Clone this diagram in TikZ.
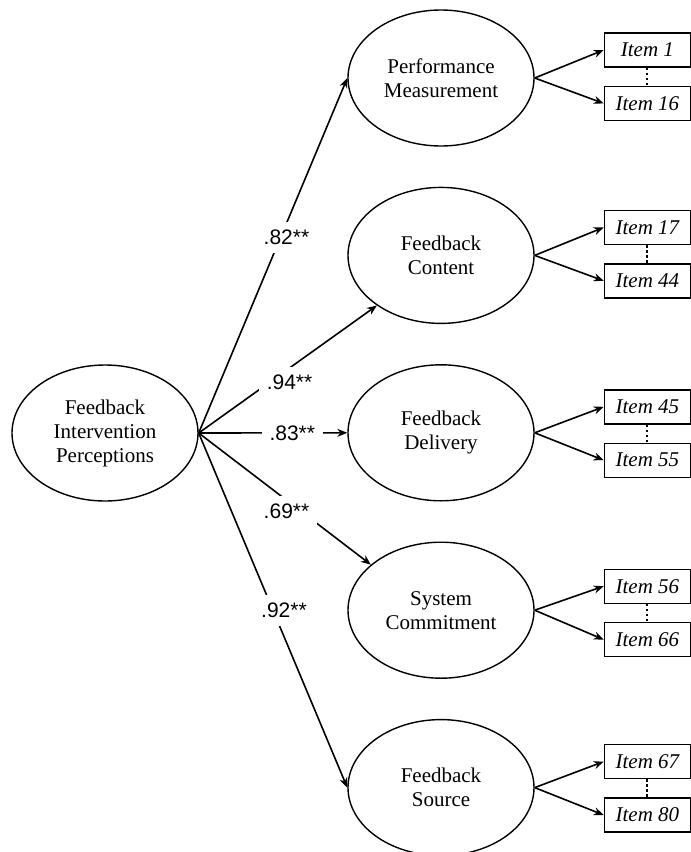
\documentclass[tikz,border=0pt]{standalone}
\usepackage{fontspec}
\setmainfont{Liberation Serif}
\setsansfont{Liberation Sans}
\usepackage{tikz}
\usetikzlibrary{arrows.meta}
\usetikzlibrary{shapes.geometric}
\usetikzlibrary{positioning}

\begin{document}
\begin{tikzpicture}[x=1pt,y=-1pt,->,>={Stealth[length=10pt,width=8pt]},line width=1.6pt,node distance=40pt]
	\tikzstyle{latent}=[draw, ellipse, line width=1.4pt, minimum width=186pt, minimum height=136pt, inner sep=0pt, align=center, font=\fontsize{21}{24}\selectfont]
	\tikzstyle{item}=[draw, rectangle, line width=1.4pt, minimum width=86pt, minimum height=34pt, inner sep=0pt, font=\itshape\fontsize{21}{24}\selectfont]
	\tikzstyle{coef}=[fill=white, inner sep=8pt, font=\sffamily\fontsize{21}{24}\selectfont]
	\useasboundingbox (0,0) rectangle (691,852);

	\node[latent] (fip) at (105,433) {Feedback\\Intervention\\Perceptions};
	\node[latent] (pm) at (441,78) {Performance\\Measurement};
	\node[latent] (fc) [below=of pm] {Feedback\\Content};
	\node[latent] (fd) [below=of fc] {Feedback\\Delivery};
	\node[latent] (sc) [below=of fd] {System\\Commitment};
	\node[latent] (fs) [below=of sc] {Feedback\\Source};

	\node[item] (i1) [right=69pt of pm, yshift=28pt] {Item 1};
	\node[item] (i16) [below=18pt of i1] {Item 16};
	\node[item] (i17) [right=69pt of fc, yshift=28pt] {Item 17};
	\node[item] (i44) [below=18pt of i17] {Item 44};
	\node[item] (i45) [right=69pt of fd, yshift=26pt] {Item 45};
	\node[item] (i55) [below=18pt of i45] {Item 55};
	\node[item] (i56) [right=69pt of sc, yshift=24pt] {Item 56};
	\node[item] (i66) [below=18pt of i56] {Item 66};
	\node[item] (i67) [right=69pt of fs, yshift=26pt] {Item 67};
	\node[item] (i80) [below=18pt of i67] {Item 80};

	\path
		(fip.east) edge node[coef, pos=.55, xshift=6pt] {.82**} (pm.west)
		(fip.east) edge node[coef, pos=.51, yshift=-14pt] {.94**} (fc.218)
		(fip.east) edge node[coef, pos=.63] {.83**} (fd.west)
		(fip.east) edge node[coef, pos=.51, yshift=-11pt] {.69**} (sc.147)
		(fip.east) edge node[coef, pos=.5, xshift=11pt] {.92**} (fs.west);

	\path
		(pm.east) edge (i1.west)
		(pm.east) edge (i16.west)
		(fc.east) edge (i17.west)
		(fc.east) edge (i44.west)
		(fd.east) edge (i45.west)
		(fd.east) edge (i55.west)
		(sc.east) edge (i56.west)
		(sc.east) edge (i66.west)
		(fs.east) edge (i67.west)
		(fs.east) edge (i80.west);

	\path[-, dash pattern=on 2.5pt off 2.5pt, line width=2pt]
		(i1) edge (i16)
		(i17) edge (i44)
		(i45) edge (i55)
		(i56) edge (i66)
		(i67) edge (i80);
\end{tikzpicture}
\end{document}
